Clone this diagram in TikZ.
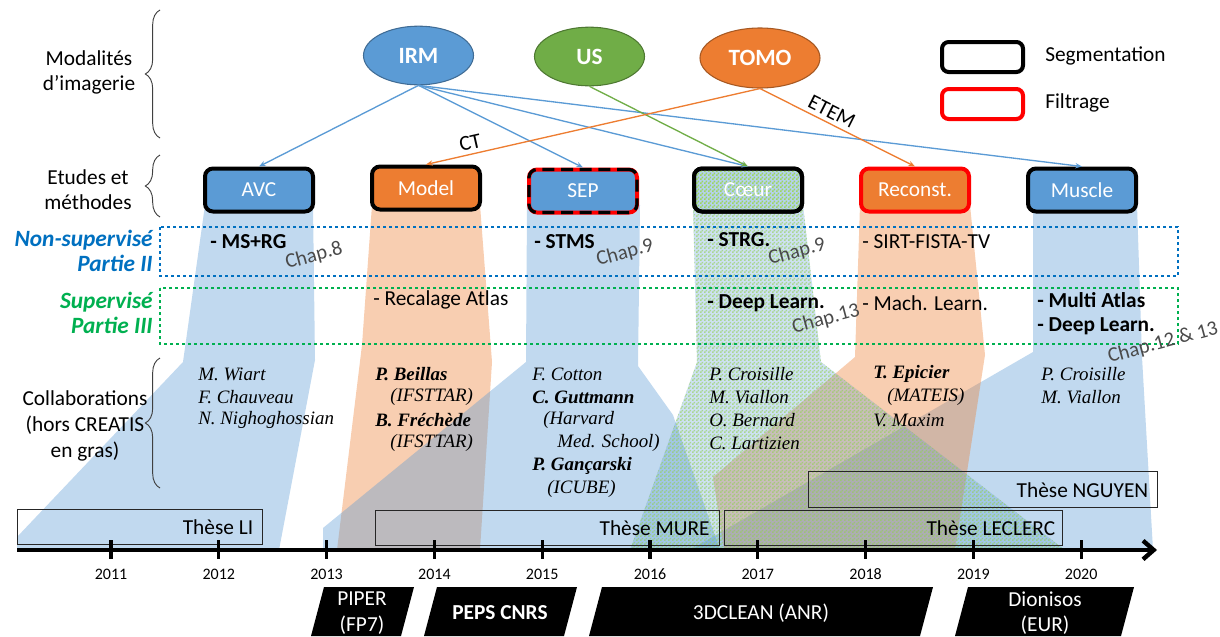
\documentclass[tikz,border=0pt]{standalone}
\usepackage{fontspec}
\setmainfont{Carlito}
\newfontfamily\tnr{Liberation Serif}
\usetikzlibrary{shapes.geometric,arrows.meta,decorations.pathreplacing,patterns}
\definecolor{bluec}{HTML}{5B9BD5}
\definecolor{orangec}{HTML}{ED7D31}
\definecolor{greenc}{HTML}{70AD47}
\definecolor{lgreen}{HTML}{92D050}
\definecolor{dblue}{HTML}{0070C0}
\definecolor{dgreen}{HTML}{00B050}
\definecolor{chapgray}{HTML}{4A4A4A}
\pgfdeclarepatternformonly{smallcheck}{\pgfpointorigin}{\pgfqpoint{3pt}{3pt}}{\pgfqpoint{3pt}{3pt}}{%
 \pgfpathrectangle{\pgfpointorigin}{\pgfqpoint{1.5pt}{1.5pt}}%
 \pgfpathrectangle{\pgfqpoint{1.5pt}{1.5pt}}{\pgfqpoint{1.5pt}{1.5pt}}%
 \pgfusepath{fill}}
\begin{document}
\begin{tikzpicture}[x=0.75pt,y=-0.75pt,
 txt/.style={font=\fontsize{16}{18.75}\selectfont, inner sep=0},
 bt/.style={font=\fontsize{16}{18.75}\selectfont\bfseries, inner sep=0, anchor=west},
 nt/.style={font=\fontsize{16}{18.75}\selectfont, inner sep=0, anchor=west},
 chap/.style={font=\fontsize{15.5}{18}\selectfont, text=chapgray, rotate=15, inner sep=0},
 coll/.style={font=\tnr\fontsize{14.2}{16}\selectfont\itshape, anchor=west, inner sep=0},
 collb/.style={font=\tnr\fontsize{14.2}{16}\selectfont\bfseries\itshape, anchor=west, inner sep=0},
 part/.style={font=\fontsize{17.5}{18.5}\selectfont\bfseries\itshape, align=right, anchor=east, inner sep=0},
 studybox/.style={draw=black, line width=3pt, rounded corners=6pt, minimum width=81pt, minimum height=32.25pt, inner sep=0, text=white, font=\fontsize{16}{18.75}\selectfont},
 legbox/.style={line width=3pt, rounded corners=5pt, minimum width=60.75pt, minimum height=22.5pt, inner sep=0, fill=white},
 modal/.style={ellipse, line width=0.8pt, text=white, font=\fontsize{17.5}{20}\selectfont\bfseries, inner sep=0},
 link/.style={line width=1pt, -{Stealth[length=5pt,width=4pt]}},
 bandb/.style={fill=bluec, fill opacity=0.38},
 bando/.style={fill=orangec, fill opacity=0.38},
 dotb/.style={draw=dblue, line width=2.2pt, dash pattern=on 2.6pt off 1.9pt},
 dotg/.style={draw=dgreen, line width=2.2pt, dash pattern=on 2.6pt off 1.9pt},
 thesis/.style={draw=black!85, line width=1.1pt, inner sep=0, anchor=north west},
 thtxt/.style={font=\fontsize{16}{18.75}\selectfont, inner sep=0, anchor=east},
 fundtxt/.style={text=white, font=\fontsize{16}{19}\selectfont, align=center, inner sep=0},
 mybrace/.style={decorate, decoration={brace, amplitude=11pt}, draw=black!75, line width=0.7pt},
 year/.style={font=\fontsize{12}{14}\selectfont, inner sep=0}
]
\useasboundingbox (0,0) rectangle (1220,636);

% ---- bands
\path[bandb] (1033,205) -- (1137,205) -- (1142,357) -- (1153,550) -- (690,550) -- (1033,352) -- cycle;
\path[bando] (860,205) -- (970,205) -- (985,355) -- (955,550) -- (724,550) -- (713,477) -- (855,357) -- cycle;
\path[bandb] (205,205) -- (313,205) -- (315,360) -- (279,550) -- (17,550) -- (17,537) -- (183,362) -- cycle;
\path[bando] (372,205) -- (480,205) -- (492,362) -- (480,550) -- (337,550) -- (362,345) -- cycle;
\path[bandb] (527,205) -- (640,205) -- (638,366) -- (673,415) -- (720,550) -- (323,550) -- (323,528) -- (526,362) -- cycle;
\path[fill=bluec, fill opacity=0.3, postaction={pattern=smallcheck, pattern color=lgreen, fill opacity=0.6}]
 (693,205) -- (803,205) -- (821,362) -- (1065,550) -- (630,550) -- (697,362) -- cycle;

% ---- left labels and braces
\node[txt, align=center] (modl) at (89,72) {Modalités\\d’imagerie};
\node[txt, align=center] (etl) at (88,190) {Etudes et\\méthodes};
\node[txt, align=center, font=\fontsize{16}{19.5}\selectfont] (coll) at (85,426) {Collaborations\\(hors CREATIS\\en gras)};
\draw[mybrace] (160,138) -- (160,10);
\draw[mybrace] (160,217) -- (160,155);
\draw[mybrace] (160,488) -- (160,358);
\node[part, text=dblue] (nsup) at (153,251) {Non-supervisé\\Partie II};
\node[part, text=dgreen] (sup) at (153,313) {Supervisé\\Partie III};

% ---- dotted frames
\draw[dotb] (160,227) rectangle (1178,276);
\draw[dotg] (160,288) rectangle (1178,344);

% ---- modalities
\node[modal, fill=bluec, draw=bluec!70!black, minimum width=82.5pt, minimum height=44pt] (irm) at (418.5,55.5) {IRM};
\node[modal, fill=greenc, draw=greenc!70!black, minimum width=82.5pt, minimum height=44pt] (us) at (589.5,56.5) {US};
\node[modal, fill=orangec, draw=orangec!70!black, minimum width=90pt, minimum height=45pt] (tomo) at (760,58) {TOMO};

% ---- legend
\node[legbox, draw=black] (lseg) at (982.5,57) {};
\node[legbox, draw=red] (lfil) at (982.5,104) {};
\node[txt, anchor=west] (tseg) at (1045,56) {Segmentation};
\node[txt, anchor=west] (tfil) at (1045,103) {Filtrage};

% ---- studies
\node[studybox, fill=bluec] (avc) at (259,190) {AVC};
\node[studybox, fill=orangec] (model) at (426,188) {Model};
\node[studybox, fill=bluec, draw=red, postaction={draw=black, line width=2.4pt, dash pattern=on 9pt off 5pt}] (sep) at (583,191) {SEP};
\node[studybox, fill=bluec!45, postaction={pattern=smallcheck, pattern color=lgreen!90}, postaction={draw=black, line width=3pt}] (coeur) at (748,190) {Cœur};
\node[studybox, fill=orangec, draw=red] (rec) at (915,190) {Reconst.};
\node[studybox, fill=bluec] (mus) at (1082,190) {Muscle};

% ---- connectors
\draw[link, draw=bluec] (irm.south) -- (avc.north);
\draw[link, draw=bluec] (irm.south) -- (sep.north);
\draw[link, draw=bluec] (irm.south) -- (coeur.north);
\draw[link, draw=bluec] (irm.south) -- (mus.north);
\draw[link, draw=greenc] (us.south) -- (coeur.north);
\draw[link, draw=orangec] (tomo.south) -- node[pos=0.86, sloped, above=3pt, txt] (ct) {CT} (model.north);
\draw[link, draw=orangec] (tomo.south) -- node[pos=0.43, sloped, above=3pt, txt] (etem) {ETEM} (rec.north);

% ---- methods
\node[bt] (m1) at (210,242) {- MS+RG};
\node[chap] (c1) at (314,256) {Chap.8};
\node[bt] (m2) at (534,242) {- STMS};
\node[chap] (c2) at (625,253) {Chap.9};
\node[bt] (m3) at (707,240) {- STRG.};
\node[chap] (c3) at (797,252) {Chap.9};
\node[nt] (m4) at (862,242) {- SIRT-FISTA-TV};
\node[nt] (s1) at (373,300) {- Recalage Atlas};
\node[bt] (s2) at (707,303) {- Deep Learn.};
\node[chap] (c4) at (826,319) {Chap.13};
\node[nt] (s3) at (862,303) {- Mach. Learn.};
\node[bt] (s4) at (1037,300) {- Multi Atlas};
\node[bt] (s5) at (1037,326) {- Deep Learn.};
\node[chap] (c5) at (1163,343) {Chap.12 \& 13};

% ---- collaborations
\node[coll] (a1) at (198,374) {M. Wiart};
\node[coll] (a2) at (198,397) {F. Chauveau};
\node[coll] (a3) at (198,420) {N. Nighoghossian};
\node[collb] (b1) at (375,374) {P. Beillas};
\node[coll] (b2) at (390,397) {(IFSTTAR)};
\node[collb] (b3) at (375,420) {B. Fréchède};
\node[coll] (b4) at (390,443) {(IFSTTAR)};
\node[coll] (d1) at (532,374) {F. Cotton};
\node[collb] (d2) at (532,397) {C. Guttmann};
\node[coll] (d3) at (543,420) {(Harvard};
\node[coll] (d4) at (557,443) {Med. School)};
\node[collb] (d5) at (532,466) {P. Gançarski};
\node[coll] (d6) at (547,489) {(ICUBE)};
\node[coll] (e1) at (709,374) {P. Croisille};
\node[coll] (e2) at (709,397) {M. Viallon};
\node[coll] (e3) at (709,420) {O. Bernard};
\node[coll] (e4) at (709,443) {C. Lartizien};
\node[collb] (f1) at (873,374) {T. Epicier};
\node[coll] (f2) at (887,397) {(MATEIS)};
\node[coll] (f3) at (873,420) {V. Maxim};
\node[coll] (g1) at (1041,374) {P. Croisille};
\node[coll] (g2) at (1041,397) {M. Viallon};

% ---- theses
\node[thesis, minimum width=183.75pt, minimum height=26.25pt] (li) at (17,509) {};
\node[thtxt] (lit) at ([xshift=-7.5pt]li.east) {Thèse LI};
\node[thesis, minimum width=258pt, minimum height=26.25pt] (mure) at (375,510) {};
\node[thtxt] (muret) at ([xshift=-8pt]mure.east) {Thèse MURE};
\node[thesis, minimum width=253.5pt, minimum height=26.25pt] (lec) at (724,510) {};
\node[thtxt] (lect) at ([xshift=-6pt]lec.east) {Thèse LECLERC};
\node[thesis, minimum width=261.75pt, minimum height=27pt] (ngu) at (808,471) {};
\node[thtxt] (ngut) at ([xshift=-7.5pt]ngu.east) {Thèse NGUYEN};

% ---- timeline
\coordinate (t0) at (17,550);
\coordinate (t1) at (1157,550);
\draw[line width=3.3pt, -{Straight Barb[length=8pt,width=14pt]}] (t0) -- (t1);
\foreach \y [count=\i from 0] in {2011,...,2020}{
 \draw[line width=2.3pt] ({111+107.8*\i},540) -- ({111+107.8*\i},559);
 \node[year] at ({111+107.8*\i},574) {\y};
}

% ---- funding
\fill[black] (324,587) -- (414,587) -- (401,636) -- (311,636) -- cycle;
\node[fundtxt] (piper) at (362,613) {PIPER\\(FP7)};
\fill[black] (437,587) -- (577,587) -- (564,636) -- (424,636) -- cycle;
\node[fundtxt, font=\fontsize{16}{19}\selectfont\bfseries] (peps) at (500,613) {PEPS CNRS};
\fill[black] (602,587) -- (933,587) -- (920,636) -- (589,636) -- cycle;
\node[fundtxt] (clean) at (761,613) {3DCLEAN (ANR)};
\fill[black] (968,587) -- (1134,587) -- (1121,636) -- (955,636) -- cycle;
\node[fundtxt] (dion) at (1045,613) {Dionisos\\(EUR)};
\end{tikzpicture}
\end{document}
